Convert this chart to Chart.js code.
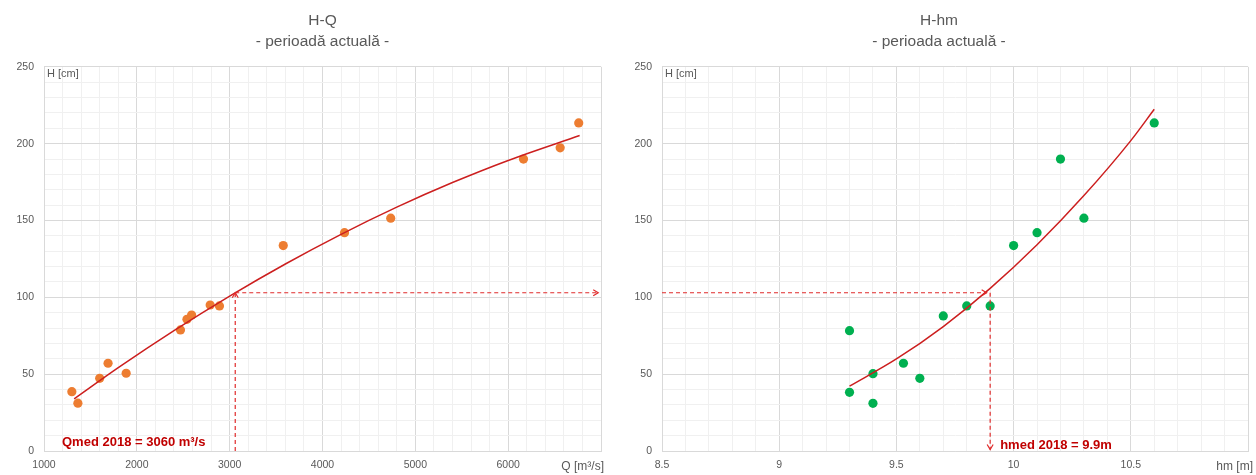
<!DOCTYPE html>
<html>
<head>
<meta charset="utf-8">
<title>H-Q / H-hm</title>
<script src="https://cdn.jsdelivr.net/npm/chart.js@4.4.1/dist/chart.umd.min.js"></script>
<style>
    body { margin: 0; background: #ffffff; }
    .wrap { display: flex; width: 1256px; height: 475px; }
    .panel { width: 628px; height: 475px; }
</style>
</head>
<body>
<div class="wrap">
    <div class="panel"><canvas id="hqChart" width="628" height="475"></canvas></div>
    <div class="panel"><canvas id="hmChart" width="628" height="475"></canvas></div>
</div>
<script>
// H-Q: measured discharge [m3/s] and stage [cm]
const hqDischarge = [1300, 1365, 1600, 1690, 1885, 2470, 2540, 2590, 2790, 2890, 3577, 4237, 4735, 6165, 6560, 6760];
const hqStage = [38.6, 31.1, 47.3, 57.1, 50.6, 78.8, 85.7, 88.5, 95.0, 94.4, 133.7, 142.1, 151.5, 190.0, 197.3, 213.5];

// H-Q trend line
const hqTrendQ = [1325, 1800, 2400, 3000, 3600, 4200, 4800, 5400, 6000, 6770];
const hqTrendH = [33.9, 54.2, 78.3, 100.8, 121.7, 141.0, 158.7, 174.7, 189.1, 205.3];

// H-hm: mean level [m] and stage [cm]
const hmLevel = [9.3, 9.3, 9.4, 9.4, 9.53, 9.6, 9.7, 9.8, 9.9, 10.0, 10.1, 10.2, 10.3, 10.6];
const hmStage = [78.3, 38.2, 50.3, 31.0, 57.1, 47.3, 87.9, 94.4, 94.4, 133.7, 142.1, 190.0, 151.5, 213.5];

// H-hm trend line
const hmTrendLevel = [9.3, 9.5, 9.7, 9.9, 10.1, 10.3, 10.5, 10.6];
const hmTrendH = [42.2, 59.9, 81.0, 105.8, 134.2, 166.2, 202.0, 222.4];

// 2018 reference values
const qmed2018 = 3060;
const hmed2018 = 9.9;
const h2018 = 103;

// Axis ranges
const qAxis = [1000, 7000];
const hmAxis = [8.5, 11];
const hAxis = [0, 250];

const textGray = '#595959';
const gridMajor = '#D9D9D9';
const gridMinor = '#F0F0F0';
const trendRed = '#CC1F1F';
const guideRed = '#E02B2B';
const noteRed = '#C00000';
const fontFamily = "'Liberation Sans', Arial, sans-serif";

const toPoints = (xs, ys) => xs.map((x, i) => ({ x: x, y: ys[i] }));

function drawArrow(ctx, px, py, dir) {
    ctx.beginPath();
    if (dir === 'right') {
        ctx.moveTo(px - 5, py - 3); ctx.lineTo(px, py); ctx.lineTo(px - 5, py + 3);
    } else if (dir === 'up') {
        ctx.moveTo(px - 3, py + 5); ctx.lineTo(px, py); ctx.lineTo(px + 3, py + 5);
    } else {
        ctx.moveTo(px - 3, py - 5); ctx.lineTo(px, py); ctx.lineTo(px + 3, py - 5);
    }
    ctx.stroke();
}

// captions, arrowheads and the red note
const notesPlugin = {
    id: 'chartNotes',
    afterDraw(chart, args, opts) {
        const { ctx, chartArea } = chart;
        const x = chart.scales.x;
        const y = chart.scales.y;
        ctx.save();
        ctx.fillStyle = textGray;
        ctx.textBaseline = 'middle';
        ctx.textAlign = 'left';
        ctx.font = '11px ' + fontFamily;
        ctx.fillText(opts.yCaption, chartArea.left + 3, chartArea.top + 7);
        ctx.textAlign = 'right';
        ctx.font = '12px ' + fontFamily;
        ctx.fillText(opts.xCaption, chartArea.right + opts.xCaptionShift, chartArea.bottom + 16);

        ctx.strokeStyle = guideRed;
        ctx.lineWidth = 1.2;
        opts.arrows.forEach(a => drawArrow(ctx, x.getPixelForValue(a.x), y.getPixelForValue(a.y), a.dir));

        ctx.font = 'bold 13px ' + fontFamily;
        ctx.fillStyle = noteRed;
        ctx.textAlign = 'left';
        ctx.fillText(opts.note.text, x.getPixelForValue(opts.note.x) + opts.note.dx, chartArea.bottom + opts.note.dy);
        ctx.restore();
    }
};

function guideLine(points) {
    return {
        type: 'line',
        data: points,
        borderColor: guideRed,
        borderWidth: 1.2,
        borderDash: [4, 3],
        pointRadius: 0,
        fill: false,
        order: 0
    };
}

function buildChart(canvasId, cfg) {
    const isMajorX = v => Math.abs(v / cfg.xMajor - Math.round(v / cfg.xMajor)) < 1e-6;
    const isMajorY = v => v % 50 === 0;

    new Chart(document.getElementById(canvasId), {
        type: 'scatter',
        data: {
            datasets: [
                {
                    type: 'line',
                    data: cfg.trend,
                    borderColor: trendRed,
                    borderWidth: 1.5,
                    pointRadius: 0,
                    tension: 0.4,
                    cubicInterpolationMode: 'monotone',
                    fill: false,
                    order: 1
                },
                {
                    data: cfg.points,
                    backgroundColor: cfg.color,
                    borderColor: cfg.color,
                    pointRadius: 4.6,
                    pointBorderWidth: 0,
                    order: 2
                },
                ...cfg.guides.map(guideLine)
            ]
        },
        options: {
            responsive: false,
            animation: false,
            devicePixelRatio: 1,
            layout: { padding: { left: 0, right: cfg.padRight, top: 0, bottom: 0 } },
            plugins: {
                legend: { display: false },
                tooltip: { enabled: false },
                title: {
                    display: true,
                    fullSize: cfg.titleFullSize,
                    text: cfg.title,
                    color: textGray,
                    font: { family: fontFamily, size: 15.5, weight: 'normal', lineHeight: 1.35 },
                    padding: { top: 10, bottom: 15 }
                },
                chartNotes: cfg.notes
            },
            scales: {
                x: {
                    type: 'linear',
                    min: cfg.xRange[0],
                    max: cfg.xRange[1],
                    afterFit: s => { s.height = 24; },
                    ticks: {
                        stepSize: cfg.xMinor,
                        autoSkip: false,
                        maxRotation: 0,
                        padding: 8,
                        color: textGray,
                        font: { family: fontFamily, size: 10.5 },
                        callback: v => (isMajorX(v) && v < cfg.xRange[1]) ? String(+v.toFixed(2)) : ''
                    },
                    grid: {
                        drawTicks: false,
                        color: c => isMajorX(c.tick.value) ? gridMajor : gridMinor
                    },
                    border: { color: gridMajor }
                },
                y: {
                    min: hAxis[0],
                    max: hAxis[1],
                    afterFit: s => { s.width = cfg.yWidth; },
                    ticks: {
                        stepSize: 10,
                        autoSkip: false,
                        padding: 10,
                        color: textGray,
                        font: { family: fontFamily, size: 10.5 },
                        callback: v => isMajorY(v) ? v : ''
                    },
                    grid: {
                        drawTicks: false,
                        color: c => isMajorY(c.tick.value) ? gridMajor : gridMinor
                    },
                    border: { color: gridMajor }
                }
            }
        },
        plugins: [notesPlugin]
    });
}

document.addEventListener('DOMContentLoaded', () => {
    buildChart('hqChart', {
        title: ['H-Q', '- perioadă actuală -'],
        titleFullSize: false,
        xRange: qAxis,
        xMajor: 1000,
        xMinor: 200,
        yWidth: 44,
        padRight: 27,
        color: '#ED7D31',
        points: toPoints(hqDischarge, hqStage),
        trend: toPoints(hqTrendQ, hqTrendH),
        guides: [
            [{ x: qmed2018, y: 0 }, { x: qmed2018, y: h2018 }],
            [{ x: qmed2018, y: h2018 }, { x: 6970, y: h2018 }]
        ],
        notes: {
            yCaption: 'H [cm]',
            xCaption: 'Q [m³/s]',
            xCaptionShift: 3,
            arrows: [
                { x: qmed2018, y: h2018, dir: 'up' },
                { x: 6970, y: h2018, dir: 'right' }
            ],
            note: { text: 'Qmed 2018 = 3060 m³/s', x: qAxis[0], dx: 18, dy: -9 }
        }
    });

    buildChart('hmChart', {
        title: ['H-hm', '- perioada actuală -'],
        titleFullSize: true,
        xRange: hmAxis,
        xMajor: 0.5,
        xMinor: 0.1,
        yWidth: 34,
        padRight: 6,
        color: '#00B050',
        points: toPoints(hmLevel, hmStage),
        trend: toPoints(hmTrendLevel, hmTrendH),
        guides: [
            [{ x: hmAxis[0], y: h2018 }, { x: 9.885, y: h2018 }],
            [{ x: hmed2018, y: h2018 }, { x: hmed2018, y: 1 }]
        ],
        notes: {
            yCaption: 'H [cm]',
            xCaption: 'hm [m]',
            xCaptionShift: 5,
            arrows: [
                { x: 9.885, y: h2018, dir: 'right' },
                { x: hmed2018, y: 1, dir: 'down' }
            ],
            note: { text: 'hmed 2018 = 9.9m', x: hmed2018, dx: 10, dy: -6 }
        }
    });
});
</script>
</body>
</html>
